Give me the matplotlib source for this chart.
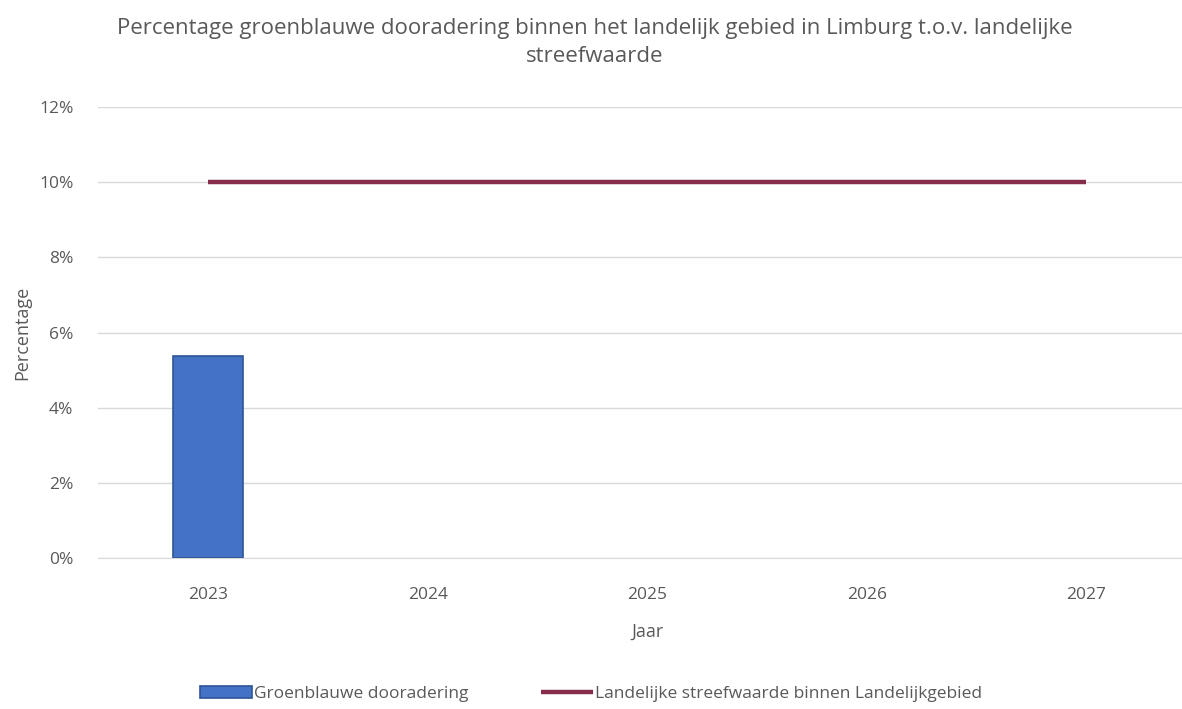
import matplotlib.pyplot as plt
import numpy as np
from matplotlib.ticker import FuncFormatter

plt.rcParams['font.family'] = ['Open Sans', 'DejaVu Sans']

years = ["2023", "2024", "2025", "2026", "2027"]
groenblauw = [5.37, 0, 0, 0, 0]          # percent
streefwaarde = [10, 10, 10, 10, 10]      # percent

TXT = "#595959"

fig = plt.figure(figsize=(11.82, 7.09), dpi=100)
ax = fig.add_axes([0.0833, 0.213, 0.9285, 0.636])

x = np.arange(len(years))
vals = [v if v > 0 else np.nan for v in groenblauw]
bars = ax.bar(x, vals, width=0.32, color="#4472C4", edgecolor="#2F5597", linewidth=1.2,
              label="Groenblauwe dooradering", zorder=3)
line, = ax.plot(x, streefwaarde, color="#862D4A", linewidth=3.2, solid_capstyle="butt",
                label="Landelijke streefwaarde binnen Landelijkgebied", zorder=4)

ax.set_xlim(-0.5, len(years) - 0.5)
ax.set_ylim(0, 12)
ax.set_yticks(range(0, 13, 2))
ax.yaxis.set_major_formatter(FuncFormatter(lambda v, _: f"{v:.0f}%"))
ax.set_xticks(x)
ax.set_xticklabels(years)
ax.grid(axis="y", color="#D9D9D9", linewidth=1, zorder=0)
for s in ["top", "right", "left"]:
    ax.spines[s].set_visible(False)
ax.spines["bottom"].set_color("#D9D9D9")
ax.tick_params(length=0, colors=TXT, labelsize=12.5)
ax.tick_params(axis="x", pad=21)
ax.tick_params(axis="y", pad=18)

ax.set_xlabel("Jaar", color=TXT, fontsize=13, labelpad=14)
ax.set_ylabel("Percentage", color=TXT, fontsize=13, labelpad=6)

fig.text(0.503, 0.975, "Percentage groenblauwe dooradering binnen het landelijk gebied in Limburg t.o.v. landelijke\nstreefwaarde",
         ha="center", va="top", color=TXT, fontsize=16, linespacing=1.45)

fig.legend([bars, line], [bars.get_label(), line.get_label()],
           loc="lower center", bbox_to_anchor=(0.5, -0.012), ncol=2, frameon=False,
           fontsize=12.5, labelcolor=TXT, handlelength=3.0, handletextpad=0.1,
           columnspacing=4.2)

fig.savefig("out.png", dpi=100)
